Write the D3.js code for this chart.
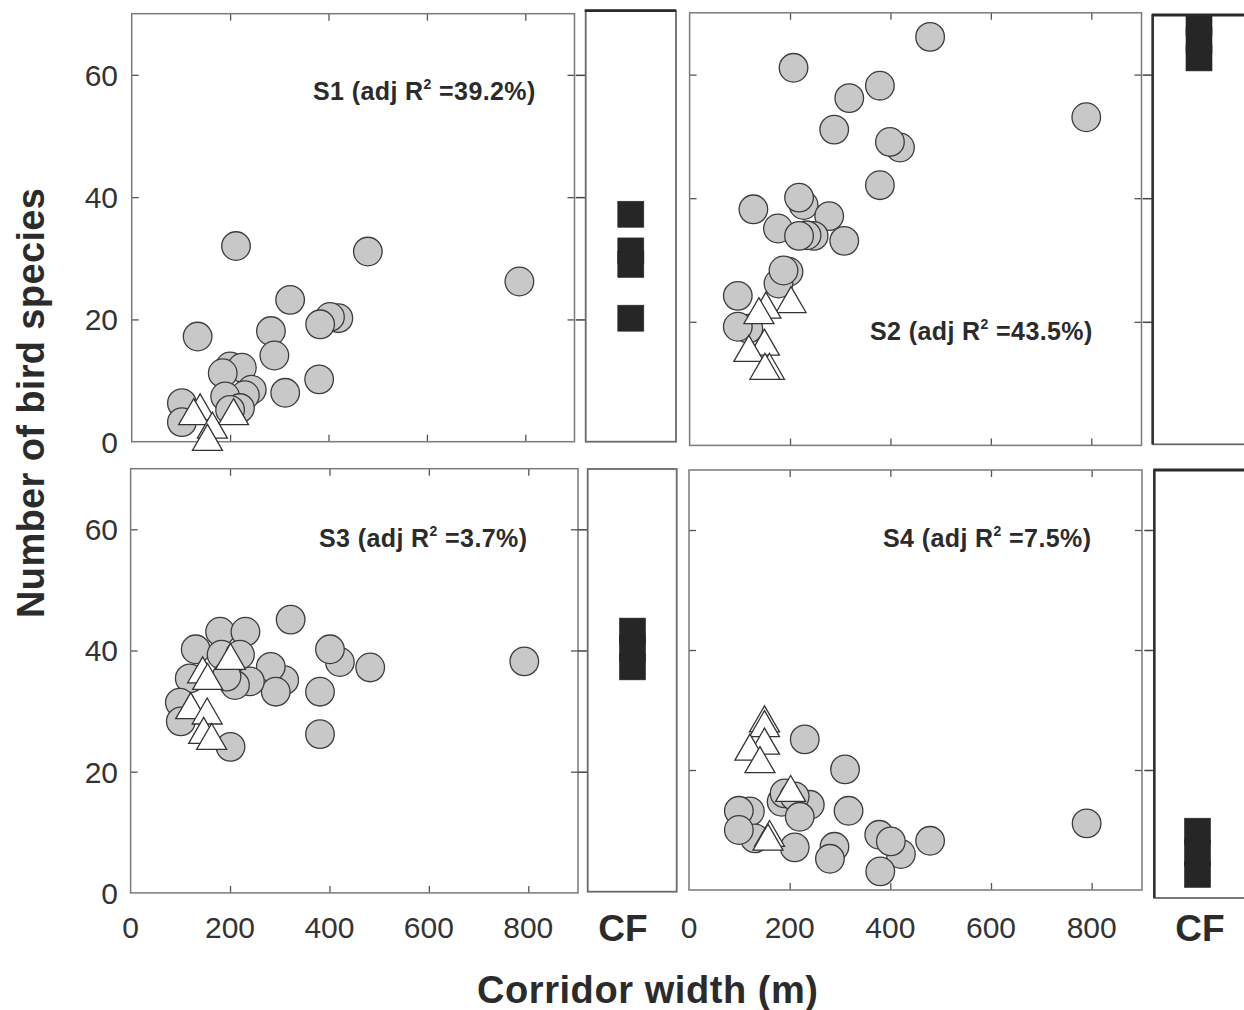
<!DOCTYPE html>
<html>
<head>
<meta charset="utf-8">
<script src="https://cdn.jsdelivr.net/npm/d3@7"></script>
<style>
  html, body { margin: 0; padding: 0; background: #fff; }
  svg { display: block; font-family: "Liberation Sans", Arial, Helvetica, sans-serif; }
</style>
</head>
<body>
<svg id="chart" width="1244" height="1010"></svg>
<script>
// ---- tick values ----
const xTickValues = [0, 200, 400, 600, 800];
const yTickValues = [0, 20, 40, 60];
const xDomain = [0, 900];
const yDomain = [0, 70];

// ---- panel titles (adjusted R², %) ----
const panelNames = ["S1", "S2", "S3", "S4"];
const adjR2 = ["39.2", "43.5", "3.7", "7.5"];

// ---- S1: corridor sites (circles), other sites (triangles), continuous forest (squares) ----
const s1CircleWidth = [212, 480, 788, 322, 420, 403, 383, 134, 283, 290, 381, 312, 200, 224, 185, 244, 230, 190, 220, 200, 102, 102];
const s1CircleRich  = [32.0, 31.1, 26.2, 23.2, 20.2, 20.4, 19.2, 17.2, 18.1, 14.1, 10.2, 8.0, 12.3, 12.1, 11.2, 8.5, 7.6, 7.4, 5.5, 5.2, 6.3, 3.2];
const s1TriWidth = [139, 126, 207, 164, 154];
const s1TriRich  = [5.0, 4.2, 4.2, 2.0, 0];
const s1Forest   = [37.2, 31.2, 29.0, 20.2];

// ---- S2 ----
const s2CircleWidth = [479, 207, 379, 318, 790, 288, 419, 399, 379, 127, 227, 218, 278, 176, 247, 233, 218, 308, 197, 177, 187, 117, 96, 96];
const s2CircleRich  = [66.1, 61.1, 58.2, 56.2, 53.1, 51.1, 48.2, 49.1, 42.1, 38.2, 38.9, 40.1, 37.1, 35.1, 33.9, 34.0, 33.9, 33.1, 28.1, 26.2, 28.3, 18.9, 24.2, 19.2];
const s2TriWidth = [202, 152, 138, 149, 118, 159, 150];
const s2TriRich  = [22.9, 22.0, 21.1, 16.0, 15.0, 12.1, 12.1];
const s2Forest   = [62.7, 65.5, 68.4];

// ---- S3 ----
const s3CircleWidth = [322, 180, 231, 131, 421, 401, 792, 482, 183, 220, 309, 282, 292, 240, 210, 193, 119, 381, 99, 101, 381, 201];
const s3CircleRich  = [45.1, 43.1, 43.1, 40.2, 38.1, 40.2, 38.2, 37.2, 39.3, 39.3, 35.1, 37.3, 33.2, 34.9, 34.3, 35.7, 35.4, 33.2, 31.4, 28.3, 26.2, 24.1];
const s3TriWidth = [201, 145, 155, 121, 154, 147, 163];
const s3TriRich  = [38.3, 36.1, 35.0, 30.2, 29.3, 26.1, 25.1];
const s3Forest   = [43.2, 40.3, 37.3];

// ---- S4 ----
const s4CircleWidth = [230, 310, 790, 317, 184, 190, 240, 210, 220, 121, 99, 131, 99, 210, 289, 280, 378, 421, 401, 479, 380];
const s4CircleRich  = [25.1, 20.1, 11.1, 13.2, 14.7, 16.1, 14.2, 15.6, 12.2, 13.1, 13.2, 8.6, 10.0, 7.1, 7.2, 5.2, 9.2, 6.0, 8.1, 8.2, 3.1];
const s4TriWidth = [150, 150, 150, 121, 141, 202, 160, 157];
const s4TriRich  = [27.8, 27.0, 24.1, 23.1, 21.0, 16.2, 8.7, 8.1];
const s4Forest   = [9.8, 6.2, 2.6];

// ---- layout of the four scatter panels and their forest strips ----
const layout = [
  { xr: [131.7, 574.5], yr: [441.7, 13.7],  cf: { x0: 585.7,  x1: 676,   top: 10.7, bottom: 441.7, cx: 630.8 }, note: [313, 100],  dark: ["top"],          yLabels: true,  xLabels: false, cfLabelX: null },
  { xr: [689.6, 1141.5], yr: [445.4, 12.8], cf: { x0: 1152.7, x1: 1250,  top: 15,   bottom: 444.3, cx: 1199  }, note: [870, 340],  dark: ["top", "left"],  yLabels: false, xLabels: false, cfLabelX: null },
  { xr: [130.6, 578],   yr: [892.9, 468.7], cf: { x0: 587.7,  x1: 676.7, top: 469,  bottom: 891.7, cx: 632.5 }, note: [319, 547],  dark: [],               yLabels: true,  xLabels: true,  cfLabelX: 623 },
  { xr: [689, 1142],    yr: [890, 470],     cf: { x0: 1154.3, x1: 1250,  top: 470,  bottom: 898,   cx: 1197.5 }, note: [883, 547], dark: ["top", "left"],  yLabels: false, xLabels: true,  cfLabelX: 1200 }
];

const circleSets = [
  [s1CircleWidth, s1CircleRich], [s2CircleWidth, s2CircleRich],
  [s3CircleWidth, s3CircleRich], [s4CircleWidth, s4CircleRich]
];
const triangleSets = [
  [s1TriWidth, s1TriRich], [s2TriWidth, s2TriRich],
  [s3TriWidth, s3TriRich], [s4TriWidth, s4TriRich]
];
const forestSets = [s1Forest, s2Forest, s3Forest, s4Forest];

const svg = d3.select("#chart");
const frameColor = "#7a7a7a";
const textColor = "#2b2b2b";
const tickLen = 7;
const triangle = d3.symbol().type(d3.symbolTriangle).size(390);
const squareSide = 26;

layout.forEach((L, i) => {
  const x = d3.scaleLinear().domain(xDomain).range(L.xr);
  const y = d3.scaleLinear().domain(yDomain).range(L.yr);
  const g = svg.append("g").attr("class", "panel-" + panelNames[i]);

  const left = L.xr[0], right = L.xr[1], top = L.yr[1], bottom = L.yr[0];

  // inward ticks on all four sides
  const inner = xTickValues.filter(v => v > 0);
  const innerY = yTickValues.filter(v => v > 0);
  const axes = [
    [d3.axisBottom(x).tickValues(inner).tickSize(-tickLen), `translate(0,${bottom})`],
    [d3.axisTop(x).tickValues(inner).tickSize(-tickLen), `translate(0,${top})`],
    [d3.axisLeft(y).tickValues(innerY).tickSize(-tickLen), `translate(${left},0)`],
    [d3.axisRight(y).tickValues(innerY).tickSize(-tickLen), `translate(${right},0)`]
  ];
  axes.forEach(([ax, tr]) => {
    const a = g.append("g").attr("transform", tr).call(ax.tickFormat(""));
    a.select(".domain").remove();
    a.selectAll("line").attr("stroke", "#555").attr("stroke-width", 1.3);
  });

  // frame
  g.append("rect")
    .attr("x", left).attr("y", top)
    .attr("width", right - left).attr("height", bottom - top)
    .attr("fill", "none").attr("stroke", frameColor).attr("stroke-width", 1.5);

  // circles: corridor sites
  const [cx, cy] = circleSets[i];
  g.append("g").selectAll("circle")
    .data(d3.range(cx.length))
    .join("circle")
      .attr("cx", k => x(cx[k]))
      .attr("cy", k => y(cy[k]))
      .attr("r", 14.3)
      .attr("fill", "#c8c8c8")
      .attr("stroke", "#3c3c3c")
      .attr("stroke-width", 1.3);

  // triangles
  const [tx, ty] = triangleSets[i];
  g.append("g").selectAll("path")
    .data(d3.range(tx.length))
    .join("path")
      .attr("d", triangle)
      .attr("transform", k => `translate(${x(tx[k])},${y(ty[k])})`)
      .attr("fill", "#fff")
      .attr("stroke", "#333")
      .attr("stroke-width", 1.3);

  // panel title with superscript
  const t = g.append("text")
    .attr("x", L.note[0]).attr("y", L.note[1])
    .attr("font-size", 25).attr("font-weight", "bold")
    .attr("letter-spacing", 0.4)
    .attr("fill", textColor);
  t.append("tspan").text(panelNames[i] + " (adj R");
  t.append("tspan").attr("font-size", 14).attr("dy", -11).text("2");
  t.append("tspan").attr("dy", 11).text(" =" + adjR2[i] + "%)");

  // continuous-forest strip
  const C = L.cf;
  const clipId = "cfclip" + i;
  g.append("clipPath").attr("id", clipId)
    .append("rect").attr("x", C.x0).attr("y", C.top)
    .attr("width", C.x1 - C.x0).attr("height", C.bottom - C.top);

  const cfAxis = g.append("g").attr("transform", `translate(${C.x0},0)`)
    .call(d3.axisLeft(y).tickValues(innerY).tickSize(10).tickFormat(""));
  cfAxis.select(".domain").remove();
  cfAxis.selectAll("line").attr("stroke", "#444").attr("stroke-width", 1.5);

  const sq = g.append("g").attr("clip-path", `url(#${clipId})`);
  sq.selectAll("rect")
    .data(forestSets[i])
    .join("rect")
      .attr("x", C.cx - squareSide / 2)
      .attr("y", d => y(d) - squareSide / 2)
      .attr("width", squareSide)
      .attr("height", squareSide)
      .attr("fill", "#262626")
      .attr("stroke", "#262626")
      .attr("stroke-width", 0.6);

  g.append("rect")
    .attr("x", C.x0).attr("y", C.top)
    .attr("width", C.x1 - C.x0).attr("height", C.bottom - C.top)
    .attr("fill", "none").attr("stroke", "#6a6a6a").attr("stroke-width", 1.8);

  if (L.dark.includes("top")) {
    g.append("line").attr("x1", C.x0 - 1).attr("x2", C.x1).attr("y1", C.top).attr("y2", C.top)
      .attr("stroke", "#2a2a2a").attr("stroke-width", 2.8);
  }
  if (L.dark.includes("left")) {
    g.append("line").attr("x1", C.x0).attr("x2", C.x0).attr("y1", C.top).attr("y2", C.bottom)
      .attr("stroke", "#333").attr("stroke-width", 2.6);
  }

  // tick labels
  if (L.yLabels) {
    g.append("g").selectAll("text")
      .data(yTickValues)
      .join("text")
        .attr("x", 118)
        .attr("y", d => y(d))
        .attr("dy", "0.36em")
        .attr("text-anchor", "end")
        .attr("font-size", 30)
        .attr("fill", "#333")
        .text(d => d);
  }
  if (L.xLabels) {
    g.append("g").selectAll("text")
      .data(xTickValues)
      .join("text")
        .attr("x", d => x(d))
        .attr("y", 938)
        .attr("text-anchor", "middle")
        .attr("font-size", 30)
        .attr("fill", "#333")
        .text(d => d);
    g.append("text")
      .attr("x", L.cfLabelX).attr("y", 941)
      .attr("text-anchor", "middle")
      .attr("font-size", 37).attr("font-weight", "bold")
      .attr("fill", textColor)
      .text("CF");
  }
});

// axis titles
svg.append("text")
  .attr("transform", "translate(44,403) rotate(-90)")
  .attr("text-anchor", "middle")
  .attr("font-size", 38).attr("font-weight", "bold")
  .attr("fill", textColor)
  .attr("textLength", 430).attr("lengthAdjust", "spacing")
  .text("Number of bird species");

svg.append("text")
  .attr("x", 647.5).attr("y", 1003)
  .attr("text-anchor", "middle")
  .attr("font-size", 38).attr("font-weight", "bold")
  .attr("fill", textColor)
  .attr("textLength", 341).attr("lengthAdjust", "spacing")
  .text("Corridor width (m)");
</script>
</body>
</html>
